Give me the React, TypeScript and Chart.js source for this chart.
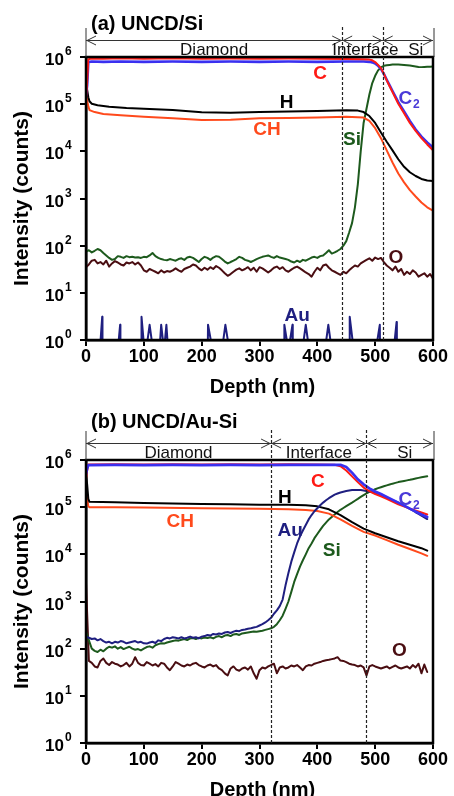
import React, { useEffect, useRef } from 'react';
import { Chart, registerables } from 'chart.js';

Chart.register(...registerables);

const FONT = '"Liberation Sans", Arial, Helvetica, sans-serif';

// ---------- shared axes ----------
const yTickValues = [1, 10, 100, 1000, 10000, 100000, 1000000];
const xMin = 0;
const xMax = 600;
const xStep = 100;

// ---------- colours ----------
const RED = '#ff1a14';
const BLUE = '#3a30f0';
const BLUE_LABEL = '#4a3ad8';
const BLACK = '#000000';
const ORANGE = '#ff4a1c';
const GREEN = '#1d5a1d';
const BROWN = '#4a0e12';
const NAVY = '#1f1f80';

// ================= panel (a) UNCD/Si =================
const aGrid = [
  0, 5, 10, 15, 20, 25, 30, 35, 40, 45,
  50, 55, 60, 65, 70, 75, 80, 85, 90, 95,
  100, 105, 110, 115, 120, 125, 130, 135, 140, 145,
  150, 155, 160, 165, 170, 175, 180, 185, 190, 195,
  200, 205, 210, 215, 220, 225, 230, 235, 240, 245,
  250, 255, 260, 265, 270, 275, 280, 285, 290, 295,
  300, 305, 310, 315, 320, 325, 330, 335, 340, 345,
  350, 355, 360, 365, 370, 375, 380, 385, 390, 395,
  400, 405, 410, 415, 420, 425, 430, 435, 440, 445,
  450, 455, 460, 465, 470, 475, 480, 485, 490, 495,
  500, 505, 510, 515, 520, 525, 530, 535, 540, 545,
  550, 555, 560, 565, 570, 575, 580, 585, 590, 595,
  600,
];
const aSi = [
  75, 80, 72, 78, 85, 80, 70, 62, 55, 50,
  52, 60, 58, 55, 60, 57, 58, 56, 57, 55,
  58, 57, 62, 70, 60, 55, 52, 50, 49, 52,
  50, 48, 52, 54, 50, 56, 58, 55, 50, 45,
  52, 58, 55, 50, 56, 60, 58, 52, 46, 42,
  45, 48, 52, 58, 55, 50, 48, 45, 48, 52,
  55, 58, 60, 62, 58, 55, 60, 56, 54, 52,
  50, 46, 44, 48, 45, 50, 48, 52, 56, 58,
  55, 60, 62, 70, 80, 68, 72, 78, 85, 100,
  125, 190, 300, 650, 2000, 10000, 40000, 80000, 160000, 280000,
  400000, 520000, 600000, 650000, 670000, 680000, 690000, 690000, 690000, 685000,
  680000, 670000, 660000, 645000, 630000, 615000, 610000, 615000, 620000, 625000,
  630000,
];
const aO = [
  35, 40, 48, 50, 42, 45, 40, 48, 36, 42,
  47, 44, 40, 38, 44, 42, 45, 40, 44, 38,
  30, 28, 32, 30, 28, 26, 30, 27, 29, 28,
  30, 33, 30, 28, 32, 34, 36, 40, 38, 33,
  30, 34, 31, 35, 32, 37, 34, 30, 26, 23,
  25, 28, 31, 33, 30, 32, 35, 30, 34, 28,
  35, 33, 30, 27, 30, 34, 36, 32, 35, 30,
  28, 31, 34, 36, 33, 30, 27, 25, 22, 28,
  34, 30, 38, 40, 34, 30, 28, 26, 24, 28,
  26, 30, 34, 38, 36, 42, 46, 50, 54, 48,
  56, 52, 55, 45, 38, 34, 30, 36, 28, 32,
  24, 28, 25, 30, 27, 22, 24, 26, 22, 25,
  20,
];
const aCDepth = [0, 2, 4, 10, 30, 60, 100, 150, 200, 250, 300, 350, 400, 450, 480, 490, 495, 500, 505, 510, 515, 520, 525, 530, 540, 550, 560, 570, 580, 590, 600];
const aC = [120000, 300000, 900000, 930000, 920000, 940000, 920000, 940000, 920000, 930000, 920000, 930000, 920000, 910000, 900000, 880000, 850000, 780000, 680000, 580000, 440000, 320000, 240000, 180000, 102000, 64000, 40000, 27000, 19000, 14000, 10500];
const aC2 = [150000, 250000, 780000, 800000, 790000, 800000, 790000, 800000, 790000, 800000, 790000, 800000, 790000, 800000, 800000, 790000, 770000, 730000, 650000, 560000, 440000, 330000, 250000, 190000, 110000, 70000, 44000, 29000, 20500, 15500, 12000];
const aHDepth = [0, 2, 4, 6, 10, 20, 40, 70, 100, 150, 200, 250, 300, 350, 400, 450, 470, 480, 490, 500, 510, 520, 530, 540, 550, 560, 570, 580, 590, 600];
const aH = [300000, 200000, 140000, 115000, 102000, 95000, 88000, 83000, 80000, 75000, 67000, 66000, 68000, 70000, 72000, 74000, 73000, 68000, 56000, 40000, 25000, 16000, 10500, 6800, 4700, 3600, 3000, 2600, 2400, 2350];
const aCHDepth = [0, 2, 4, 6, 15, 30, 60, 100, 150, 200, 250, 300, 350, 400, 450, 480, 490, 500, 510, 520, 530, 540, 550, 560, 570, 580, 590, 600];
const aCH = [150000, 120000, 90000, 75000, 68000, 62000, 58000, 54000, 50000, 46000, 47000, 50000, 51000, 52000, 54000, 52000, 44000, 31000, 19000, 10500, 5800, 3400, 2200, 1500, 1100, 820, 650, 550];
const aAuDepth = [0, 24, 28, 28.5, 55, 59, 59.5, 95.5, 96, 101, 104, 110, 116, 127, 130, 135, 139, 142, 210.5, 211, 219, 235, 241, 248, 342.5, 343, 350, 357, 357.5, 374, 380, 386, 413, 419, 425, 455.5, 456, 463, 501, 508, 508.5, 532, 537, 537.5, 600];
const aAu = [0.6, 0.6, 3.1, 0.6, 0.6, 2.1, 0.6, 0.6, 3.1, 0.6, 0.6, 2.1, 0.6, 0.6, 2.1, 0.6, 2.1, 0.6, 0.6, 2.1, 0.6, 0.6, 2.1, 0.6, 0.6, 2.1, 0.6, 2.1, 0.6, 0.6, 2.1, 0.6, 0.6, 2.1, 0.6, 0.6, 3.1, 0.6, 0.6, 2.1, 0.6, 0.6, 2.4, 0.6, 0.6];
const aBounds = [0, 443, 513, 600];
const aRegions = ['Diamond', 'Interface', 'Si'];

// ================= panel (b) UNCD/Au-Si =================
const bGrid = [
  0, 5, 10, 15, 20, 25, 30, 35, 40, 45,
  50, 55, 60, 65, 70, 75, 80, 85, 90, 95,
  100, 105, 110, 115, 120, 125, 130, 135, 140, 145,
  150, 155, 160, 165, 170, 175, 180, 185, 190, 195,
  200, 205, 210, 215, 220, 225, 230, 235, 240, 245,
  250, 255, 260, 265, 270, 275, 280, 285, 290, 295,
  300, 305, 310, 315, 320, 325, 330, 335, 340, 345,
  350, 355, 360, 365, 370, 375, 380, 385, 390, 395,
  400, 405, 410, 415, 420, 425, 430, 435, 440, 445,
  450, 455, 460, 465, 470, 475, 480, 485, 490, 495,
  500, 505, 510, 515, 520, 525, 530, 535, 540, 545,
  550, 555, 560, 565, 570, 575, 580, 585, 590,
];
const bAu = [
  180, 170, 160, 165, 150, 160, 145, 135, 140, 130,
  140, 135, 145, 140, 130, 135, 140, 145, 135, 140,
  130, 128, 135, 140, 132, 150, 145, 160, 170, 165,
  175, 170, 165, 175, 165, 170, 180, 170, 175, 165,
  180, 185, 195, 190, 205, 200, 210, 205, 220, 225,
  215, 230, 240, 235, 250, 255, 265, 270, 280, 290,
  310, 330, 360, 400, 450, 550, 650, 800, 1100, 2200,
  4000, 7000, 11000, 17000, 24000, 32000, 42000, 55000, 68000, 82000,
  95000, 110000, 125000, 140000, 155000, 170000, 185000, 195000, 205000, 213000,
  220000, 225000, 230000, 232000, 232000, 230000, 226000, 220000, 214000, 207000,
  200000, 190000, 180000, 170000, 160000, 150000, 140000, 132000, 124000, 116000,
  108000, 100000, 92000, 85000, 78000, 72000, 66000, 61000, 56000,
];
const bSi = [
  230, 150, 100, 90, 85, 95, 88, 100, 110, 105,
  112, 100, 108, 98, 104, 110, 100, 95, 98, 92,
  100, 108, 112, 105, 118, 125, 130, 128, 135, 140,
  145, 150, 148, 155, 160, 152, 165, 168, 160, 170,
  165, 172, 168, 175, 165, 178, 185, 175, 190, 195,
  185, 200, 205, 195, 210, 215, 220, 225, 230, 228,
  235, 240, 250, 260, 270, 290, 330, 400, 500, 700,
  1000, 1600, 2600, 3800, 5500, 7500, 10000, 13500, 17000, 22000,
  27000, 33000, 40000, 47000, 55000, 62000, 70000, 79000, 88000, 96000,
  105000, 115000, 125000, 137000, 150000, 165000, 180000, 195000, 210000, 225000,
  240000, 253000, 265000, 277000, 290000, 302000, 315000, 327000, 340000, 350000,
  360000, 370000, 380000, 392000, 405000, 418000, 430000, 440000, 450000,
];
const bO = [
  2500, 55, 50, 42, 40, 55, 62, 50, 45, 52,
  48, 46, 42, 45, 50, 42, 48, 66, 50, 45,
  44, 52, 48, 44, 47, 42, 50, 48, 40, 35,
  42, 52, 48, 44, 42, 46, 44, 48, 50, 45,
  42, 40, 44, 46, 42, 45, 38, 35, 30, 27,
  38, 42, 36, 34, 38, 40, 36, 42, 30, 23,
  35, 40, 38, 42, 45, 48, 30, 40, 42, 38,
  40, 44, 42, 45, 40, 35, 42, 45, 44, 48,
  50, 52, 55, 57, 58, 60, 62, 66, 56, 55,
  52, 48, 46, 45, 42, 44, 40, 27, 42, 45,
  42, 40, 38, 40, 42, 38, 41, 44, 40, 38,
  40, 42, 38, 45, 40, 48, 30, 46, 32,
];
const bCDepth = [0, 2, 4, 50, 100, 150, 200, 250, 300, 350, 400, 430, 440, 450, 460, 470, 480, 490, 500, 510, 520, 540, 560, 580, 590];
const bC = [400000, 600000, 800000, 810000, 800000, 810000, 800000, 810000, 800000, 810000, 800000, 790000, 740000, 600000, 450000, 340000, 260000, 220000, 190000, 170000, 150000, 115000, 93000, 77000, 70000];
const bC2 = [500000, 650000, 780000, 790000, 780000, 790000, 780000, 790000, 780000, 790000, 790000, 790000, 790000, 710000, 540000, 390000, 305000, 250000, 215000, 190000, 165000, 125000, 93000, 70000, 62000];
const bHDepth = [0, 2, 4, 6, 50, 100, 150, 200, 250, 300, 350, 380, 400, 420, 440, 460, 480, 500, 520, 540, 560, 580, 590];
const bH = [500000, 300000, 150000, 130000, 127000, 122000, 120000, 117000, 115000, 112000, 112000, 110000, 104000, 90000, 68000, 48000, 35000, 28000, 23000, 19000, 16000, 13500, 12000];
const bCHDepth = [0, 2, 4, 6, 50, 100, 200, 300, 350, 380, 400, 420, 440, 460, 480, 500, 520, 540, 560, 580, 590];
const bCH = [300000, 160000, 105000, 100000, 100000, 98000, 95000, 92000, 90000, 87000, 83000, 73000, 55000, 40000, 30000, 25000, 20000, 16000, 13000, 10500, 9300];
const bBounds = [0, 320, 485, 600];
const bRegions = ['Diamond', 'Interface', 'Si'];

// ---------- types ----------
type Series = { name: string; depth: number[]; values: number[]; color: string; width: number };
type Label = { text: string; sub?: string; depth: number; value: number; color: string };
type Panel = {
  title: string;
  series: Series[];
  labels: Label[];
  bounds: number[];
  regions: string[];
  regionShift: number[];
  padTop: number;
  xAxisH: number;
  height: number;
};

const panelA: Panel = {
  title: '(a) UNCD/Si',
  series: [
    { name: 'C', depth: aCDepth, values: aC, color: RED, width: 2 },
    { name: 'C2', depth: aCDepth, values: aC2, color: BLUE, width: 2.6 },
    { name: 'H', depth: aHDepth, values: aH, color: BLACK, width: 2 },
    { name: 'CH', depth: aCHDepth, values: aCH, color: ORANGE, width: 2 },
    { name: 'Si', depth: aGrid, values: aSi, color: GREEN, width: 2 },
    { name: 'O', depth: aGrid, values: aO, color: BROWN, width: 2 },
    { name: 'Au', depth: aAuDepth, values: aAu, color: NAVY, width: 2 },
  ],
  labels: [
    { text: 'C', depth: 405, value: 4.9e5, color: RED },
    { text: 'H', depth: 347, value: 1.15e5, color: BLACK },
    { text: 'CH', depth: 313, value: 3.1e4, color: ORANGE },
    { text: 'C', sub: '2', depth: 552, value: 1.4e5, color: BLUE_LABEL },
    { text: 'Si', depth: 460, value: 1.9e4, color: GREEN },
    { text: 'O', depth: 536, value: 60, color: BROWN },
    { text: 'Au', depth: 365, value: 3.5, color: NAVY },
  ],
  bounds: aBounds,
  regions: aRegions,
  regionShift: [0, 3, 8],
  padTop: 57,
  xAxisH: 58,
  height: 398,
};

const panelB: Panel = {
  title: '(b) UNCD/Au-Si',
  series: [
    { name: 'C2', depth: bCDepth, values: bC2, color: BLUE, width: 2.6 },
    { name: 'C', depth: bCDepth, values: bC, color: RED, width: 2 },
    { name: 'Au', depth: bGrid, values: bAu, color: NAVY, width: 2 },
    { name: 'H', depth: bHDepth, values: bH, color: BLACK, width: 2 },
    { name: 'CH', depth: bCHDepth, values: bCH, color: ORANGE, width: 2 },
    { name: 'Si', depth: bGrid, values: bSi, color: GREEN, width: 2 },
    { name: 'O', depth: bGrid, values: bO, color: BROWN, width: 2 },
  ],
  labels: [
    { text: 'C', depth: 401, value: 3.7e5, color: RED },
    { text: 'H', depth: 344, value: 1.7e5, color: BLACK },
    { text: 'CH', depth: 163, value: 5.3e4, color: ORANGE },
    { text: 'Au', depth: 353, value: 3.4e4, color: NAVY },
    { text: 'Si', depth: 425, value: 1.3e4, color: GREEN },
    { text: 'C', sub: '2', depth: 552, value: 1.6e5, color: BLUE_LABEL },
    { text: 'O', depth: 542, value: 98, color: BROWN },
  ],
  bounds: bBounds,
  regions: bRegions,
  regionShift: [0, 0, 5],
  padTop: 62,
  xAxisH: 53,
  height: 398,
};

function decorPlugin(p: Panel) {
  return {
    id: 'decor',
    afterDraw(chart: any) {
      const ctx: CanvasRenderingContext2D = chart.ctx;
      const { left, right, top, bottom } = chart.chartArea;
      const xs = chart.scales.x;
      const ys = chart.scales.y;
      ctx.save();

      // frame
      ctx.strokeStyle = '#000';
      ctx.lineWidth = 2.5;
      ctx.strokeRect(left, top, right - left, bottom - top);

      // dashed region boundaries
      ctx.setLineDash([3, 2]);
      ctx.lineWidth = 1.2;
      ctx.strokeStyle = '#222';
      for (let i = 1; i < p.bounds.length - 1; i++) {
        const x = Math.round(xs.getPixelForValue(p.bounds[i])) + 0.5;
        ctx.beginPath();
        ctx.moveTo(x, top - 30);
        ctx.lineTo(x, bottom);
        ctx.stroke();
      }
      ctx.setLineDash([]);

      // region arrows
      const ay = top - 17;
      ctx.lineWidth = 1;
      ctx.strokeStyle = '#333';
      ctx.beginPath();
      ctx.moveTo(left, top - 29);
      ctx.lineTo(left, top);
      ctx.moveTo(right + 1, top - 29);
      ctx.lineTo(right + 1, top);
      ctx.moveTo(left, ay + 0.5);
      ctx.lineTo(right, ay + 0.5);
      for (let i = 0; i < p.regions.length; i++) {
        const x0 = xs.getPixelForValue(p.bounds[i]) + 1;
        const x1 = xs.getPixelForValue(p.bounds[i + 1]) - 1;
        ctx.moveTo(x0 + 9, ay - 4);
        ctx.lineTo(x0, ay + 0.5);
        ctx.lineTo(x0 + 9, ay + 5);
        ctx.moveTo(x1 - 9, ay - 4);
        ctx.lineTo(x1, ay + 0.5);
        ctx.lineTo(x1 - 9, ay + 5);
      }
      ctx.stroke();

      ctx.fillStyle = '#111';
      ctx.font = `17px ${FONT}`;
      ctx.textAlign = 'center';
      ctx.textBaseline = 'alphabetic';
      for (let i = 0; i < p.regions.length; i++) {
        const x0 = xs.getPixelForValue(p.bounds[i]);
        const x1 = xs.getPixelForValue(p.bounds[i + 1]);
        ctx.fillText(p.regions[i], (x0 + x1) / 2 + p.regionShift[i], top - 2);
      }

      // panel title
      ctx.fillStyle = '#000';
      ctx.font = `bold 20px ${FONT}`;
      ctx.textAlign = 'left';
      ctx.fillText(p.title, left + 5, 30);

      // y tick labels 10^n
      for (const t of ys.ticks) {
        const y = ys.getPixelForValue(t.value);
        const exp = Math.round(Math.log10(t.value));
        ctx.font = `bold 17px ${FONT}`;
        ctx.textAlign = 'right';
        ctx.fillText('10', left - 22, y + 8);
        ctx.font = `bold 12px ${FONT}`;
        ctx.textAlign = 'left';
        ctx.fillText(String(exp), left - 21, y - 2);
      }

      // x tick labels
      ctx.font = `bold 18px ${FONT}`;
      ctx.textAlign = 'center';
      for (const t of xs.ticks) {
        ctx.fillText(String(t.value), xs.getPixelForValue(t.value), bottom + 22);
      }

      // axis titles
      ctx.font = `bold 20px ${FONT}`;
      ctx.fillText('Depth (nm)', (left + right) / 2 + 3, bottom + 53);
      ctx.save();
      ctx.translate(22, (top + bottom) / 2);
      ctx.rotate(-Math.PI / 2);
      ctx.font = `bold 21px ${FONT}`;
      ctx.textBaseline = 'middle';
      ctx.fillText('Intensity (counts)', 0, 0);
      ctx.restore();

      // series labels
      for (const l of p.labels) {
        const x = xs.getPixelForValue(l.depth);
        const y = ys.getPixelForValue(l.value);
        ctx.fillStyle = l.color;
        ctx.font = `bold 19px ${FONT}`;
        ctx.textAlign = 'center';
        ctx.textBaseline = 'alphabetic';
        ctx.fillText(l.text, x, y + 7);
        if (l.sub) {
          const w = ctx.measureText(l.text).width;
          ctx.font = `bold 12px ${FONT}`;
          ctx.textAlign = 'left';
          ctx.fillText(l.sub, x + w / 2 + 1, y + 11);
        }
      }
      ctx.restore();
    },
  };
}

function buildConfig(p: Panel): any {
  const gridOpts = { display: true, drawOnChartArea: false, drawTicks: true, tickLength: 6, color: '#000', lineWidth: 2 };
  const borderOpts = { display: true, color: '#000', width: 2.5 };
  return {
    type: 'line',
    data: {
      datasets: p.series.map((s) => ({
        label: s.name,
        data: s.depth.map((d, i) => ({ x: d, y: s.values[i] })),
        borderColor: s.color,
        backgroundColor: s.color,
        borderWidth: s.width,
        pointRadius: 0,
        pointHoverRadius: 0,
        tension: 0,
        fill: false,
        clip: 0,
        borderJoinStyle: 'round',
        borderCapStyle: 'round',
      })),
    },
    options: {
      animation: false,
      responsive: false,
      maintainAspectRatio: false,
      devicePixelRatio: 1,
      events: [],
      layout: { padding: { left: 0, right: 21, top: p.padTop, bottom: 0 } },
      plugins: { legend: { display: false }, tooltip: { enabled: false }, title: { display: false } },
      scales: {
        x: {
          type: 'linear',
          min: xMin,
          max: xMax,
          ticks: { stepSize: xStep, display: false },
          grid: gridOpts,
          border: borderOpts,
          afterFit: (s: any) => {
            s.height = p.xAxisH;
          },
        },
        y: {
          type: 'logarithmic',
          min: yTickValues[0],
          max: yTickValues[yTickValues.length - 1],
          ticks: { display: false },
          afterBuildTicks: (s: any) => {
            s.ticks = yTickValues.map((v) => ({ value: v }));
          },
          grid: gridOpts,
          border: borderOpts,
          afterFit: (s: any) => {
            s.width = 86;
          },
        },
      },
    },
    plugins: [decorPlugin(p)],
  };
}

function PanelChart({ panel }: { panel: Panel }) {
  const ref = useRef<HTMLCanvasElement>(null);
  useEffect(() => {
    if (!ref.current) return;
    const chart = new Chart(ref.current, buildConfig(panel));
    return () => chart.destroy();
  }, [panel]);
  return (
    <canvas
      ref={ref}
      width={454}
      height={panel.height}
      style={{ display: 'block', width: 454, height: panel.height }}
    />
  );
}

export default function App() {
  useEffect(() => {
    document.body.style.margin = '0';
    document.body.style.background = '#fff';
  }, []);
  return (
    <div style={{ position: 'absolute', left: 0, top: 0, width: 454, height: 796, background: '#fff', overflow: 'hidden' }}>
      <PanelChart panel={panelA} />
      <PanelChart panel={panelB} />
    </div>
  );
}
